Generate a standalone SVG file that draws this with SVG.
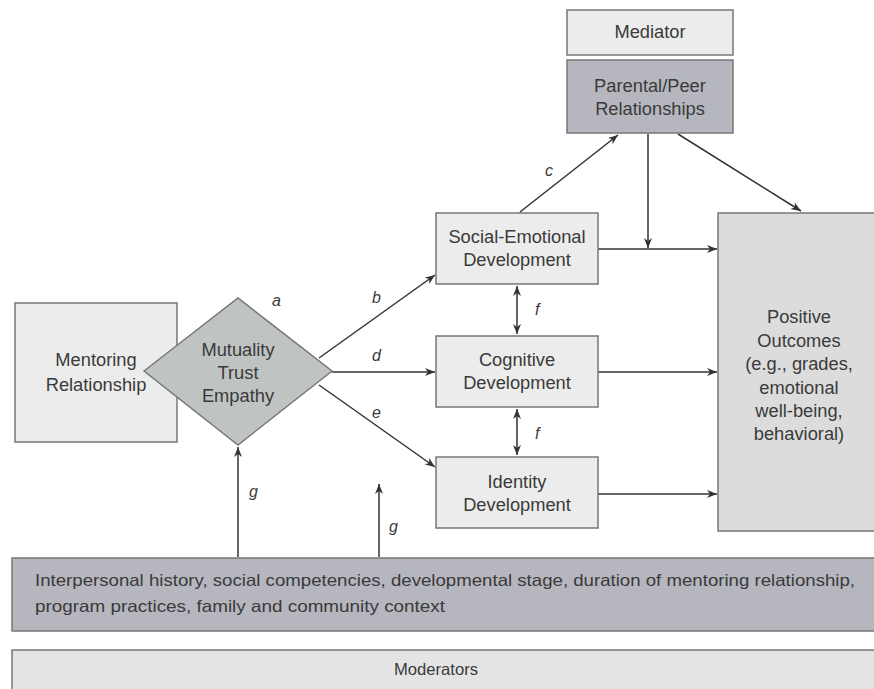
<svg xmlns="http://www.w3.org/2000/svg" width="874" height="689" viewBox="0 0 874 689">
<defs>
<marker id="ah" viewBox="0 0 10 8" refX="10" refY="4" markerWidth="10" markerHeight="8" markerUnits="userSpaceOnUse" orient="auto-start-reverse">
<path d="M0,0 L10,4 L0,8 L3,4 Z" fill="#333"/>
</marker>
<style>
.box{stroke:#777;stroke-width:1.5}
.light{fill:#ececec}
.mid{fill:#dcdcdc}
.dark{fill:#b6b6be}
.t{font-family:"Liberation Sans",Arial,sans-serif;font-size:18.3px;fill:#3a3a3a;text-anchor:middle}
.s{font-family:"Liberation Sans",Arial,sans-serif;font-size:16.5px;fill:#3a3a3a}
.lbl{font-family:"Liberation Sans",Arial,sans-serif;font-size:16px;font-style:italic;fill:#3a3a3a}
.c{stroke:#333;stroke-width:1.5;fill:none}
</style>
</defs>
<rect width="874" height="689" fill="#fff"/>

<g id="connectors">
<line class="c" x1="520" y1="212" x2="618" y2="135" marker-end="url(#ah)"/>
<line class="c" x1="648" y1="134" x2="648" y2="248" marker-end="url(#ah)"/>
<line class="c" x1="678" y1="134" x2="801" y2="211" marker-end="url(#ah)"/>
<line class="c" x1="319" y1="358" x2="435" y2="275" marker-end="url(#ah)"/>
<line class="c" x1="332" y1="372" x2="435" y2="372" marker-end="url(#ah)"/>
<line class="c" x1="319" y1="385" x2="435" y2="467" marker-end="url(#ah)"/>
<line class="c" x1="598" y1="249" x2="717" y2="249" marker-end="url(#ah)"/>
<line class="c" x1="598" y1="372" x2="717" y2="372" marker-end="url(#ah)"/>
<line class="c" x1="598" y1="494" x2="717" y2="494" marker-end="url(#ah)"/>
<line class="c" x1="517" y1="286" x2="517" y2="334" marker-start="url(#ah)" marker-end="url(#ah)"/>
<line class="c" x1="517" y1="409" x2="517" y2="455" marker-start="url(#ah)" marker-end="url(#ah)"/>
<line class="c" x1="238" y1="557" x2="238" y2="447" marker-end="url(#ah)"/>
<line class="c" x1="379" y1="557" x2="379" y2="484" marker-end="url(#ah)"/>
<text class="lbl" x="272" y="306">a</text>
<text class="lbl" x="372" y="303">b</text>
<text class="lbl" x="545" y="176">c</text>
<text class="lbl" x="372" y="361">d</text>
<text class="lbl" x="372" y="418">e</text>
<text class="lbl" x="535" y="315">f</text>
<text class="lbl" x="535" y="439">f</text>
<text class="lbl" x="249" y="497">g</text>
<text class="lbl" x="389" y="532">g</text>
</g>

<g id="mediator">
<rect class="box light" x="567" y="10" width="166" height="45"/>
<text class="t" x="650" y="38">Mediator</text>
</g>
<g id="parental-peer">
<rect class="box dark" x="567" y="60" width="166" height="73"/>
<text class="t" x="650" y="92">Parental/Peer</text>
<text class="t" x="650" y="115">Relationships</text>
</g>
<g id="mentoring">
<rect class="box light" x="15" y="303" width="162" height="139"/>
<text class="t" x="96" y="366">Mentoring</text>
<text class="t" x="96" y="391">Relationship</text>
</g>
<g id="mutuality">
<polygon class="box" fill="#bfc4c3" points="144,371 238,298 332,371 238,445"/>
<text class="t" x="238" y="356">Mutuality</text>
<text class="t" x="238" y="379">Trust</text>
<text class="t" x="238" y="402">Empathy</text>
</g>
<g id="social-emotional">
<rect class="box light" x="436" y="213" width="162" height="71"/>
<text class="t" x="517" y="243">Social-Emotional</text>
<text class="t" x="517" y="266">Development</text>
</g>
<g id="cognitive">
<rect class="box light" x="436" y="336" width="162" height="71"/>
<text class="t" x="517" y="366">Cognitive</text>
<text class="t" x="517" y="389">Development</text>
</g>
<g id="identity">
<rect class="box light" x="436" y="457" width="162" height="71"/>
<text class="t" x="517" y="488">Identity</text>
<text class="t" x="517" y="511">Development</text>
</g>
<g id="positive-outcomes">
<rect class="box mid" x="718" y="213" width="170" height="318"/>
<text class="t" x="799" y="323">Positive</text>
<text class="t" x="799" y="347">Outcomes</text>
<text class="t" x="799" y="370">(e.g., grades,</text>
<text class="t" x="799" y="394">emotional</text>
<text class="t" x="799" y="417">well-being,</text>
<text class="t" x="799" y="440">behavioral)</text>
</g>
<g id="moderator-factors">
<rect class="box dark" x="12" y="558" width="880" height="73"/>
<text class="s" x="35" y="586" textLength="820" lengthAdjust="spacingAndGlyphs">Interpersonal history, social competencies, developmental stage, duration of mentoring relationship,</text>
<text class="s" x="35" y="612" textLength="410" lengthAdjust="spacingAndGlyphs">program practices, family and community context</text>
</g>
<g id="moderators">
<rect class="box" fill="#e4e4e4" x="12" y="650" width="880" height="50"/>
<text class="s" x="436" y="675" text-anchor="middle" textLength="84" lengthAdjust="spacingAndGlyphs">Moderators</text>
</g>
</svg>
